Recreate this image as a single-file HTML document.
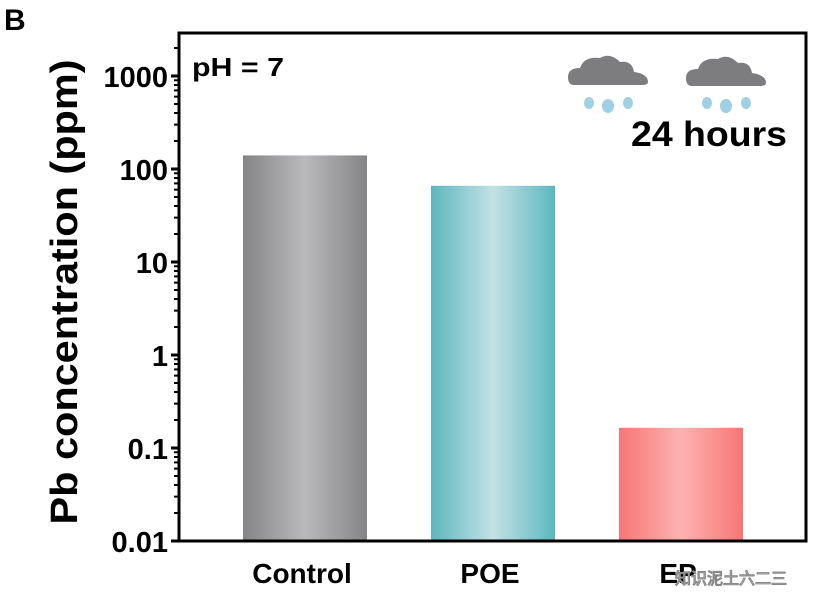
<!DOCTYPE html>
<html><head><meta charset="utf-8"><style>
body{margin:0;background:#fff;width:816px;height:598px;overflow:hidden}
svg text{font-family:"Liberation Sans",sans-serif;font-weight:bold}
</style></head><body>
<svg width="816" height="598">
<defs>
<linearGradient id="gC" x1="0" x2="1"><stop offset="0" stop-color="#858587"/><stop offset="0.5" stop-color="#b9b9bb"/><stop offset="1" stop-color="#858587"/></linearGradient>
<linearGradient id="gP" x1="0" x2="1"><stop offset="0" stop-color="#5db7c0"/><stop offset="0.5" stop-color="#c3e1e4"/><stop offset="1" stop-color="#5db7c0"/></linearGradient>
<linearGradient id="gE" x1="0" x2="1"><stop offset="0" stop-color="#f87676"/><stop offset="0.5" stop-color="#fcb2b2"/><stop offset="1" stop-color="#f87676"/></linearGradient>
</defs>
<text x="4" y="30" font-size="30">B</text>
<g id="plot"></g>
<text x="192" y="76" font-size="26" textLength="92" lengthAdjust="spacingAndGlyphs">pH = 7</text>
<g>
<g transform="translate(568,52)"><path d="M6,33 Q0,33 0,25 Q0,16 12,16 Q16,4 32,6 Q42,0 52,10 Q64,8 66,20 Q80,22 80,30 Q80,33 74,33 Z" fill="#7d7d7f"/>
<ellipse cx="21" cy="51" rx="5" ry="6" fill="#9fd0e3"/><ellipse cx="40" cy="54" rx="6" ry="7" fill="#9fd0e3"/><ellipse cx="60" cy="51" rx="5" ry="6" fill="#9fd0e3"/></g>
<g transform="translate(686,53)"><path d="M6,33 Q0,33 0,25 Q0,16 12,16 Q16,4 32,6 Q42,0 52,10 Q64,8 66,20 Q80,22 80,30 Q80,33 74,33 Z" fill="#7d7d7f"/>
<ellipse cx="21" cy="50" rx="5" ry="6" fill="#9fd0e3"/><ellipse cx="40" cy="53" rx="6" ry="7" fill="#9fd0e3"/><ellipse cx="60" cy="50" rx="5" ry="6" fill="#9fd0e3"/></g>
</g>
<text x="631" y="146" font-size="35" textLength="156" lengthAdjust="spacingAndGlyphs">24 hours</text>
<text transform="translate(77,292) rotate(-90)" text-anchor="middle" font-size="38" textLength="465" lengthAdjust="spacingAndGlyphs">Pb concentration (ppm)</text>
<text x="675" y="584" font-size="16" fill="#fff" stroke="#888" stroke-width="0.5" font-family="Noto Sans CJK SC,sans-serif">知识泥土六二三</text>
</svg>
<script>
const categories=["Control","POE","EP"];
const values=[140,66,0.165];
const tickValues=[0.01,0.1,1,10,100,1000];
const tickLabels=["0.01","0.1","1","10","100","1000"];
const fills=["url(#gC)","url(#gP)","url(#gE)"];
const NS="http://www.w3.org/2000/svg";
const L=179,R=806,T=33,B=541,decade=93;
const y=v=>B-(Math.log10(v)+2)*decade;
const xc=i=>305+i*188;
const g=document.getElementById('plot');
function mk(t,a){const e=document.createElementNS(NS,t);for(const k in a)e.setAttribute(k,a[k]);g.appendChild(e);return e;}
values.forEach((v,i)=>{
 const r=mk('rect',{x:xc(i)-62,y:y(v),width:124,height:B-y(v),fill:fills[i]});
 
 
 const t=mk('text',{x:xc(i)-3,y:583,'text-anchor':'middle','font-size':28});
 t.textContent=categories[i];
 
 
});
const fr=mk('rect',{x:L,y:T,width:R-L,height:B-T,fill:'none',stroke:'#000','stroke-width':3});


tickValues.forEach((v,i)=>{
 mk('line',{x1:L-8,x2:L,y1:y(v),y2:y(v),stroke:'#000','stroke-width':3});
 const t=mk('text',{x:L-11,y:y(v)+11,'text-anchor':'end','font-size':29});
 t.textContent=tickLabels[i];
 
 
 for(let m=2;m<10;m++){const yy=y(v*m);if(yy>T)mk('line',{x1:L-5,x2:L,y1:yy,y2:yy,stroke:'#000','stroke-width':2});}
});
</script>
</body></html>
